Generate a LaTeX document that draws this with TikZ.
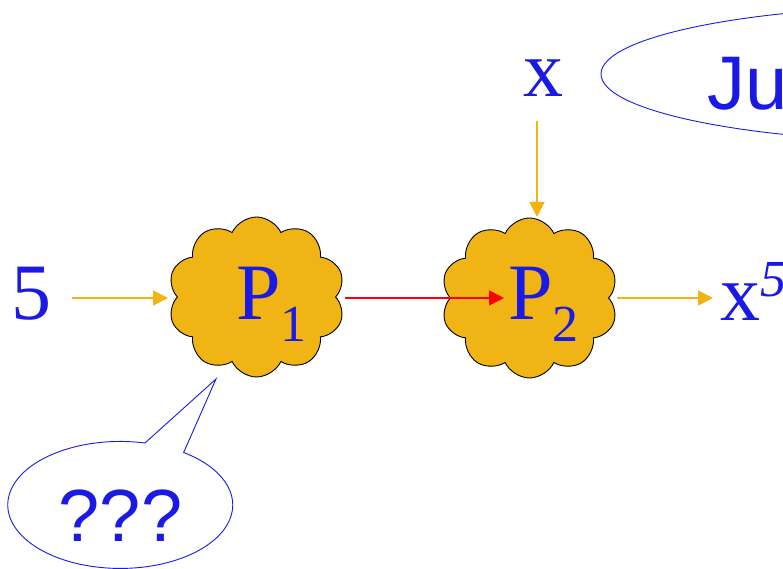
\documentclass[tikz,border=0pt]{standalone}
\usepackage{fontspec}
\setmainfont{Liberation Serif}
\newfontfamily\arialfont{Liberation Sans}
\usetikzlibrary{shapes.symbols,arrows.meta,calc}
\definecolor{txtblue}{RGB}{26,26,228}
\definecolor{cloudorange}{RGB}{240,180,20}
\definecolor{arrred}{RGB}{255,0,0}
\tikzset{
  big/.style={font=\fontsize{80}{90}\selectfont, text=txtblue, inner sep=0pt},
  sansbig/.style={font=\arialfont\fontsize{76}{86}\selectfont, text=txtblue, inner sep=0pt},
  puff/.style={cloud, cloud puffs=10, cloud puff arc=130, cloud ignores aspect,
    draw=black, line width=0.9pt, fill=cloudorange, minimum width=177pt, minimum height=160pt, inner sep=0pt, outer sep=0pt},
  orarrow/.style={draw=cloudorange, line width=1.8pt, -{Triangle[length=15pt,width=15pt]}},
  redarrow/.style={draw=arrred, line width=1.6pt, -{Triangle[length=15pt,width=15pt]}},
  blueline/.style={draw=txtblue, line width=0.9pt},
}
\begin{document}
\begin{tikzpicture}[x=1pt,y=1pt]
\useasboundingbox (0,0) rectangle (783,569);
\clip (0,0) rectangle (783,569);
% clouds
\node[puff] (c1) at (256.5,272) {};
\node[puff] (c2) at (529.5,271) {};
% texts
\node[big, anchor=base] (five) at (31,249) {5};
\node[big, anchor=base west] (p1) at (236,249) {P\raisebox{-22pt}{\fontsize{52}{60}\selectfont 1}};
\node[big, anchor=base west] (p2) at (508,249) {P\raisebox{-22pt}{\fontsize{52}{60}\selectfont 2}};
\node[big, anchor=base] (xtop) at (543.5,472) {x};
\node[big, anchor=base west] (x5) at (720.5,248) {x\raisebox{24pt}{\fontsize{52}{60}\selectfont\itshape 5}};
% arrow end points
\coordinate (a1s) at (72,271);
\coordinate (a1e) at (168,271);
\coordinate (a2s) at (345,271);
\coordinate (a2e) at (504,271);
\coordinate (a3s) at (537,448);
\coordinate (a3e) at (537,352);
\coordinate (a4s) at (617,271);
\coordinate (a4e) at (713,271);
\draw[orarrow] (a1s) -- (a1e);
\draw[redarrow] (a2s) -- (a2e);
\draw[orarrow] (a3s) -- (a3e);
\draw[orarrow] (a4s) -- (a4e);
% top right ellipse
\coordinate (ec) at (939,495);
\draw[blueline] (ec) ellipse[x radius=338pt, y radius=68pt];
\node[sansbig, anchor=base west] (ju) at (707,459) {Ju};
% speech bubble
\coordinate (bc) at (120.5,64.5);
\coordinate (btip) at (216,190);
\draw[blueline, fill=white] ($(bc)+(24.5,61.5)$) arc[start angle=77.3, end angle=415.7, x radius=112.5pt, y radius=63.5pt] -- (btip) -- cycle;
\node[sansbig, font=\arialfont\fontsize{74}{84}\selectfont, anchor=base] (q) at (120.5,27) {???};
\end{tikzpicture}
\end{document}
